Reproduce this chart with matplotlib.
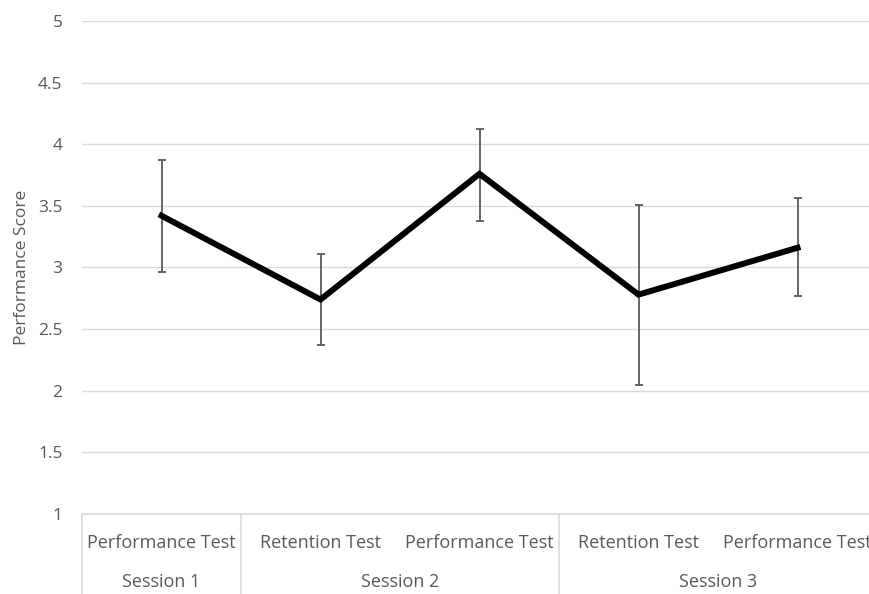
import matplotlib.pyplot as plt
import matplotlib.transforms as mtransforms
import numpy as np

# values
tests = ['Performance Test', 'Retention Test', 'Performance Test', 'Retention Test', 'Performance Test']
sessions = ['Session 1', 'Session 2', 'Session 3']
session_of_test = [0, 1, 1, 2, 2]
scores = [3.42, 2.74, 3.76, 2.78, 3.16]
err_low = [0.46, 0.37, 0.38, 0.73, 0.39]
err_high = [0.45, 0.37, 0.36, 0.73, 0.40]

GRID = '#d9d9d9'
TEXT = '#595959'
plt.rcParams['font.family'] = ['Open Sans', 'DejaVu Sans']

fig = plt.figure(figsize=(8.7, 5.94), dpi=100)
ax = fig.add_axes([82 / 870, 1 - 514 / 594, (877 - 82) / 870, (514 - 21) / 594])

x = np.arange(len(tests))
ax.errorbar(x, scores, yerr=[err_low, err_high], fmt='none', ecolor=TEXT,
            elinewidth=1.3, capsize=3.2, capthick=1.3, zorder=2)
ax.plot(x, scores, color='black', lw=4.3, solid_joinstyle='miter', zorder=3)

ax.set_xlim(-0.5, len(tests) - 0.5)
ax.set_ylim(1, 5)
ax.set_yticks(np.arange(1, 5.01, 0.5))
ax.set_yticklabels(['1', '1.5', '2', '2.5', '3', '3.5', '4', '4.5', '5'])
ax.tick_params(axis='y', length=0, pad=14, labelsize=12.5, labelcolor=TEXT)
ax.set_xticks([])
ax.grid(axis='y', color=GRID, lw=1)
ax.set_axisbelow(True)
for s in ['top', 'right', 'left']:
    ax.spines[s].set_visible(False)
ax.spines['bottom'].set_color(GRID)
ax.spines['bottom'].set_linewidth(1.2)
ax.set_ylabel('Performance Score', color=TEXT, fontsize=12.5, labelpad=6)

# two-level category axis
trans = mtransforms.blended_transform_factory(ax.transData, ax.transAxes)
for i, t in enumerate(tests):
    ax.text(i, -0.058, t, transform=trans, ha='center', va='center',
            fontsize=13, color=TEXT, clip_on=False)
bounds = [-0.5]
for i in range(1, len(tests)):
    if session_of_test[i] != session_of_test[i - 1]:
        bounds.append(i - 0.5)
for b in bounds:
    ax.plot([b, b], [0, -0.17], transform=trans, color=GRID, lw=1.2, clip_on=False)
for k, name in enumerate(sessions):
    idx = [i for i, s in enumerate(session_of_test) if s == k]
    ax.text(np.mean(idx), -0.138, name, transform=trans, ha='center', va='center',
            fontsize=13, color=TEXT, clip_on=False)

fig.savefig('out.png', dpi=100)
